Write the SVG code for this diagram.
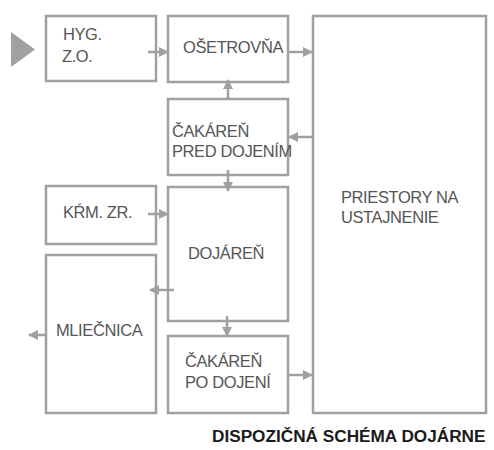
<svg xmlns="http://www.w3.org/2000/svg" width="494" height="450" viewBox="0 0 494 450">
<style>
.box{fill:#fff;stroke:#a0a0a0;stroke-width:2.5}
.lbl{font-family:"Liberation Sans",Arial,sans-serif;font-size:16.5px;fill:#555;letter-spacing:-0.4px}
.cap{font-family:"Liberation Sans",Arial,sans-serif;font-size:17.2px;font-weight:bold;fill:#1a1a1a}
.con{stroke:#a0a0a0;stroke-width:2.5;fill:none;marker-end:url(#ah)}
</style>
<defs>
<marker id="ah" markerUnits="userSpaceOnUse" markerWidth="10" markerHeight="10" viewBox="0 0 10 10" refX="9" refY="5" orient="auto">
<path d="M0,0 L10,5 L0,10 Z" fill="#a0a0a0"/>
</marker>
</defs>
<rect width="494" height="450" fill="#fff"/>
<polygon points="11,32 35,49.5 11,67" fill="#a0a0a0"/>
<g id="hyg"><rect class="box" x="46" y="16" width="110" height="65"/><text class="lbl" x="63" y="40">HYG.</text><text class="lbl" x="62" y="62">Z.O.</text></g>
<g id="osetrovna"><rect class="box" x="168" y="16" width="120" height="66"/><text class="lbl" x="183" y="53">OŠETROVŇA</text></g>
<g id="priestory"><rect class="box" x="313" y="16" width="173" height="397"/><text class="lbl" x="341" y="203">PRIESTORY NA</text><text class="lbl" x="341" y="223">USTAJNENIE</text></g>
<g id="cakaren-pred"><rect class="box" x="168" y="99" width="120" height="76"/><text class="lbl" x="172" y="137">ČAKÁREŇ</text><text class="lbl" x="172" y="157">PRED DOJENÍM</text></g>
<g id="krm"><rect class="box" x="46" y="186" width="110" height="58"/><text class="lbl" x="63" y="218">KŔM. ZR.</text></g>
<g id="dojaren"><rect class="box" x="168" y="187" width="120" height="134"/><text class="lbl" x="188" y="259">DOJÁREŇ</text></g>
<g id="mliecnica"><rect class="box" x="46" y="255" width="110" height="158"/><text class="lbl" x="56" y="336">MLIEČNICA</text></g>
<g id="cakaren-po"><rect class="box" x="168" y="336" width="120" height="77"/><text class="lbl" x="185" y="367">ČAKÁREŇ</text><text class="lbl" x="185" y="388">PO DOJENÍ</text></g>
<g id="connectors">
<line class="con" x1="148" y1="52" x2="168" y2="52"/>
<line class="con" x1="288" y1="52" x2="312" y2="52"/>
<line class="con" x1="228" y1="100" x2="228" y2="80"/>
<line class="con" x1="313" y1="137" x2="289" y2="137"/>
<line class="con" x1="228" y1="170" x2="228" y2="191"/>
<line class="con" x1="148" y1="214" x2="168" y2="214"/>
<line class="con" x1="174" y1="290" x2="150" y2="290"/>
<line class="con" x1="227" y1="316" x2="227" y2="336"/>
<line class="con" x1="288" y1="375" x2="312" y2="375"/>
<line class="con" x1="46" y1="335" x2="29" y2="335"/>
</g>
<text class="cap" x="212" y="442">DISPOZIČNÁ SCHÉMA DOJÁRNE</text>
</svg>
